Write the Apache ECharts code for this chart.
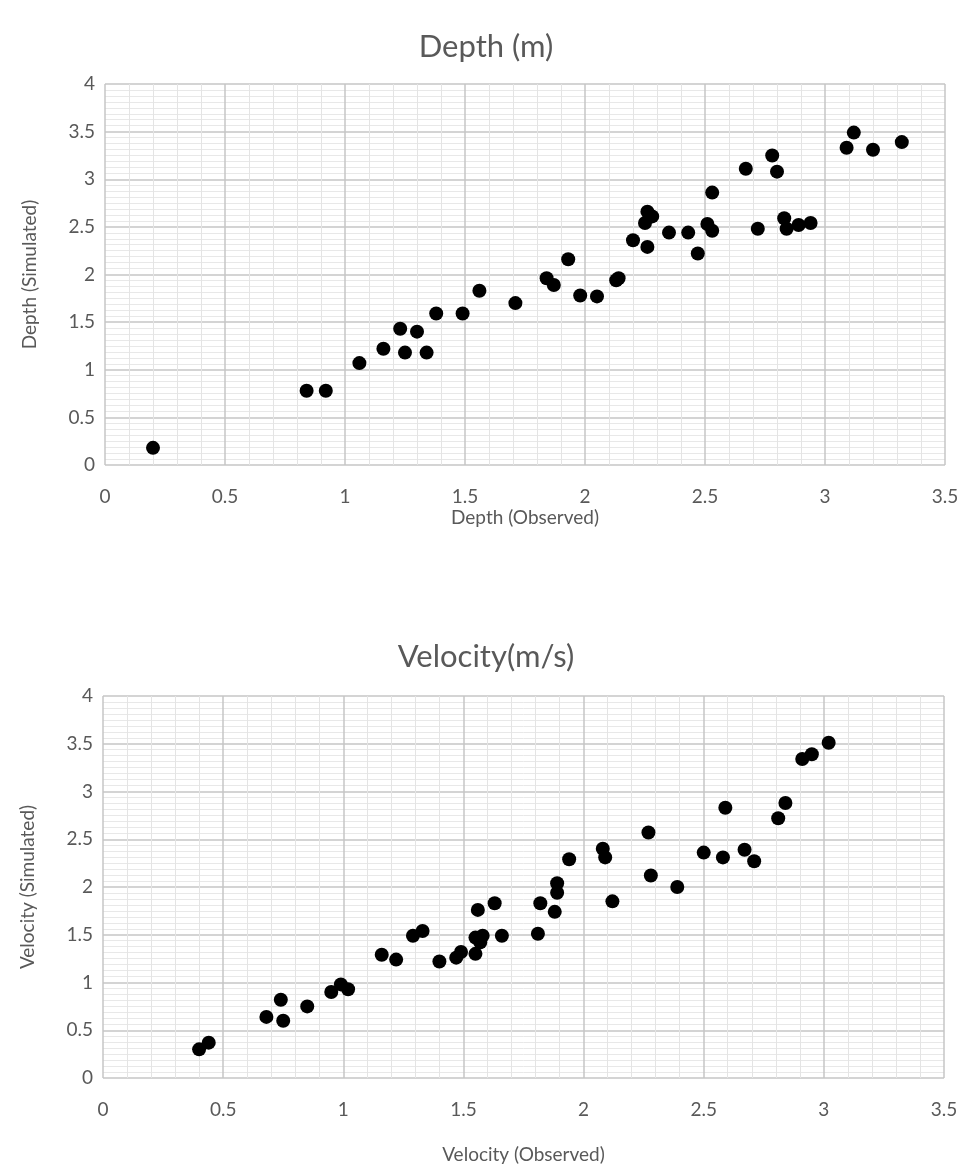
<!DOCTYPE html>
<html>
<head>
<meta charset="utf-8">
<script src="https://cdn.jsdelivr.net/npm/echarts@6/dist/echarts.min.js"></script>
<style>
  html, body { margin: 0; padding: 0; background: #fff; }
  #chart { width: 963px; height: 1170px; }
</style>
</head>
<body>
<div id="chart"></div>
<script>
// Depth: observed / simulated
const depthObserved = [0.20, 0.84, 0.92, 1.06, 1.16, 1.23, 1.25, 1.30, 1.34, 1.38, 1.49, 1.56, 1.71, 1.84, 1.87, 1.93, 1.98, 2.05, 2.13, 2.14, 2.20, 2.26, 2.25, 2.26, 2.28, 2.35, 2.43, 2.47, 2.51, 2.53, 2.53, 2.67, 2.72, 2.78, 2.80, 2.83, 2.84, 2.89, 2.94, 3.09, 3.12, 3.20, 3.32]
const depthSimulated = [0.18, 0.78, 0.78, 1.07, 1.22, 1.43, 1.18, 1.40, 1.18, 1.59, 1.59, 1.83, 1.70, 1.96, 1.89, 2.16, 1.78, 1.77, 1.94, 1.96, 2.36, 2.29, 2.54, 2.66, 2.61, 2.44, 2.44, 2.22, 2.53, 2.46, 2.86, 3.11, 2.48, 3.25, 3.08, 2.59, 2.48, 2.52, 2.54, 3.33, 3.49, 3.31, 3.39]

// Velocity: observed / simulated
const velObserved = [0.40, 0.44, 0.68, 0.74, 0.75, 0.85, 0.95, 0.99, 1.02, 1.16, 1.22, 1.29, 1.33, 1.40, 1.47, 1.49, 1.55, 1.55, 1.57, 1.58, 1.56, 1.63, 1.66, 1.81, 1.82, 1.88, 1.89, 1.89, 1.94, 2.08, 2.09, 2.12, 2.27, 2.28, 2.39, 2.50, 2.58, 2.59, 2.67, 2.71, 2.81, 2.84, 2.91, 2.95, 3.02]
const velSimulated = [0.30, 0.37, 0.64, 0.82, 0.60, 0.75, 0.90, 0.98, 0.93, 1.29, 1.24, 1.49, 1.54, 1.22, 1.26, 1.32, 1.30, 1.47, 1.42, 1.49, 1.76, 1.83, 1.49, 1.51, 1.83, 1.74, 1.94, 2.04, 2.29, 2.40, 2.31, 1.85, 2.57, 2.12, 2.00, 2.36, 2.31, 2.83, 2.39, 2.27, 2.72, 2.88, 3.34, 3.39, 3.51]

const xTicks = [0, 3.5, 0.5] // min, max, interval
const yTicks = [0, 4, 0.5]

const textColor = '#595959'
const font = 'Lato'

function pairs(xs, ys) {
  return xs.map((x, i) => [x, ys[i]])
}

function makeX(idx, name, nameGap) {
  return {
    type: 'value', gridIndex: idx,
    min: xTicks[0], max: xTicks[1], interval: xTicks[2],
    name: name, nameLocation: 'middle', nameGap: nameGap,
    nameTextStyle: { color: textColor, fontSize: 19, fontFamily: font },
    axisLine: { show: false },
    axisTick: { show: false },
    axisLabel: { color: textColor, fontSize: 19, fontFamily: font, margin: 22 },
    splitLine: { show: true, lineStyle: { color: '#c6c6c6', width: 1.5 } },
    minorTick: { show: false, splitNumber: 5 },
    minorSplitLine: { show: true, lineStyle: { color: '#e4e4e4', width: 1 } }
  }
}

function makeY(idx, name) {
  return {
    type: 'value', gridIndex: idx,
    min: yTicks[0], max: yTicks[1], interval: yTicks[2],
    name: name, nameLocation: 'middle', nameGap: 66,
    nameTextStyle: { color: textColor, fontSize: 19, fontFamily: font },
    axisLine: { show: false },
    axisTick: { show: false },
    axisLabel: { color: textColor, fontSize: 19, fontFamily: font, margin: 10 },
    splitLine: { show: true, lineStyle: { color: '#c6c6c6', width: 1.5 } },
    minorTick: { show: false, splitNumber: 8 },
    minorSplitLine: { show: true, lineStyle: { color: '#e8e8e8', width: 1 } }
  }
}

const chart = echarts.init(document.getElementById('chart'))
chart.setOption({
  backgroundColor: '#fff',
  animation: false,
  title: [
    { text: 'Depth (m)', left: 481, top: 26, textAlign: 'center',
      textStyle: { color: textColor, fontSize: 31, fontWeight: 'normal', fontFamily: font } },
    { text: 'Velocity(m/s)', left: 481, top: 636, textAlign: 'center',
      textStyle: { color: textColor, fontSize: 31, fontWeight: 'normal', fontFamily: font } }
  ],
  grid: [
    { left: 105, top: 84, width: 840, height: 381 },
    { left: 103, top: 696, width: 841, height: 382 }
  ],
  xAxis: [
    makeX(0, 'Depth (Observed)', 43),
    makeX(1, 'Velocity (Observed)', 67)
  ],
  yAxis: [
    makeY(0, 'Depth (Simulated)'),
    makeY(1, 'Velocity (Simulated)')
  ],
  series: [
    { type: 'scatter', xAxisIndex: 0, yAxisIndex: 0, symbolSize: 14,
      itemStyle: { color: '#000', opacity: 1 }, data: pairs(depthObserved, depthSimulated) },
    { type: 'scatter', xAxisIndex: 1, yAxisIndex: 1, symbolSize: 14,
      itemStyle: { color: '#000', opacity: 1 }, data: pairs(velObserved, velSimulated) }
  ]
})
</script>
</body>
</html>
